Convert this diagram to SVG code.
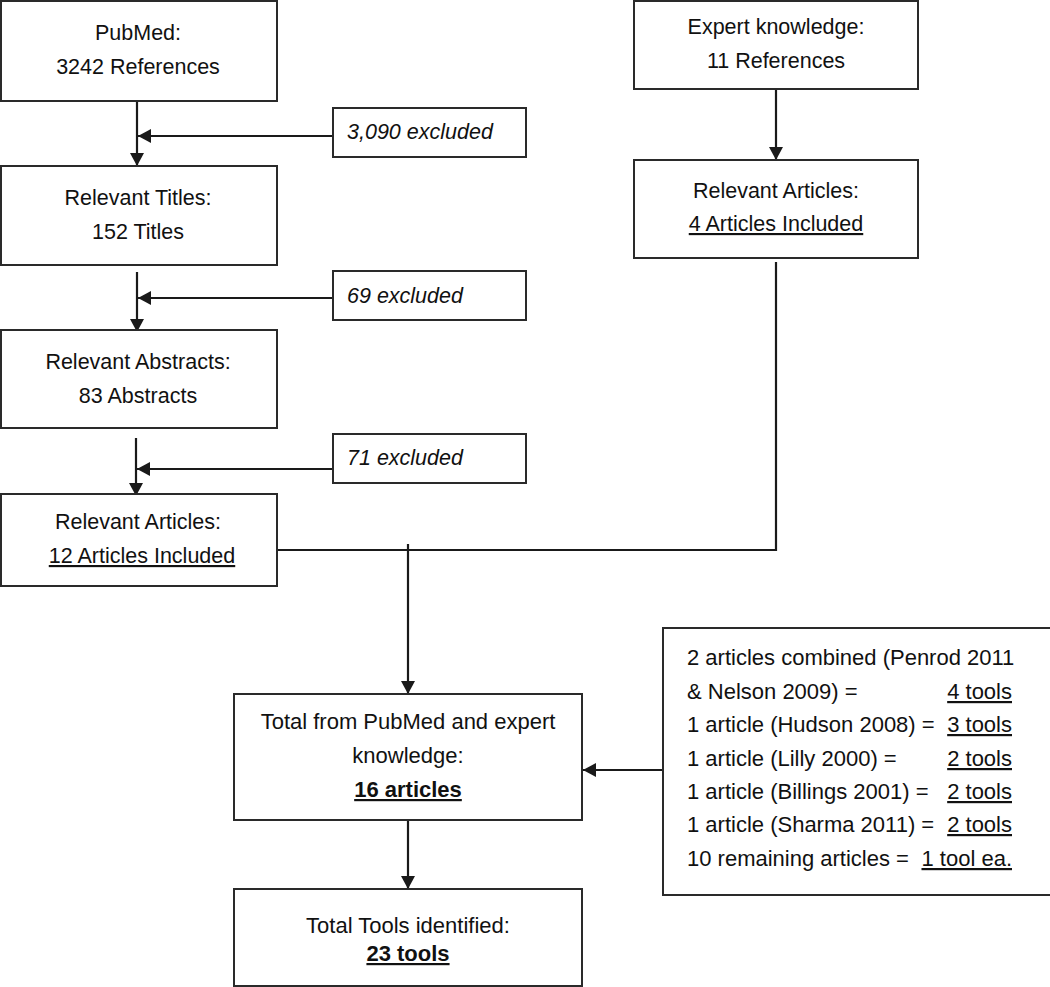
<svg xmlns="http://www.w3.org/2000/svg" width="1050" height="987" viewBox="0 0 1050 987">
<defs>
<style>
.box{fill:#fff;stroke:#2a2a2a;stroke-width:2}
.t{font-family:"Liberation Sans",Arial,sans-serif;font-size:21.5px;fill:#111}
.l{font-size:22px}
.c{text-anchor:middle}
.i{font-style:italic}
.b{font-weight:bold}
.u{text-decoration:underline}
.r{text-anchor:end}
.ln{fill:none;stroke:#1a1a1a;stroke-width:2.2}
</style>
<marker id="ah" markerUnits="userSpaceOnUse" markerWidth="14" markerHeight="14" refX="13" refY="7" orient="auto">
<path d="M0,0 L13,7 L0,14 z" fill="#1a1a1a"/>
</marker>
</defs>
<g id="connectors">
<line class="ln" x1="137" y1="102" x2="137" y2="166" marker-end="url(#ah)"/>
<line class="ln" x1="333" y1="136" x2="138" y2="136" marker-end="url(#ah)"/>
<line class="ln" x1="137" y1="272" x2="137" y2="332" marker-end="url(#ah)"/>
<line class="ln" x1="333" y1="298" x2="138" y2="298" marker-end="url(#ah)"/>
<line class="ln" x1="136" y1="438" x2="136" y2="496" marker-end="url(#ah)"/>
<line class="ln" x1="333" y1="469" x2="137" y2="469" marker-end="url(#ah)"/>
<line class="ln" x1="776" y1="89" x2="776" y2="160" marker-end="url(#ah)"/>
<polyline class="ln" points="277,550 776,550 776,262"/>
<line class="ln" x1="408" y1="544" x2="408" y2="694" marker-end="url(#ah)"/>
<line class="ln" x1="408" y1="820" x2="408" y2="889" marker-end="url(#ah)"/>
<line class="ln" x1="663" y1="770" x2="583" y2="770" marker-end="url(#ah)"/>
</g>
<g id="pubmed">
<rect class="box" x="1" y="1" width="276" height="100"/>
<text class="t c" x="138" y="40">PubMed:</text>
<text class="t c" x="138" y="74">3242 References</text>
</g>
<g id="excl1">
<rect class="box" x="333" y="108" width="193" height="49"/>
<text class="t i" x="347" y="139">3,090 excluded</text>
</g>
<g id="titles">
<rect class="box" x="1" y="166" width="276" height="99"/>
<text class="t c" x="138" y="205">Relevant Titles:</text>
<text class="t c" x="138" y="239">152 Titles</text>
</g>
<g id="excl2">
<rect class="box" x="333" y="271" width="193" height="49"/>
<text class="t i" x="347" y="303">69 excluded</text>
</g>
<g id="abstracts">
<rect class="box" x="1" y="330" width="276" height="98"/>
<text class="t c" x="138" y="369">Relevant Abstracts:</text>
<text class="t c" x="138" y="403">83 Abstracts</text>
</g>
<g id="excl3">
<rect class="box" x="333" y="434" width="193" height="49"/>
<text class="t i" x="347" y="465">71 excluded</text>
</g>
<g id="articles12">
<rect class="box" x="1" y="494" width="276" height="92"/>
<text class="t c" x="138" y="529">Relevant Articles:</text>
<text class="t c u" x="142" y="563">12 Articles Included</text>
</g>
<g id="expert">
<rect class="box" x="634" y="1" width="284" height="88"/>
<text class="t c" x="776" y="34">Expert knowledge:</text>
<text class="t c" x="776" y="68">11 References</text>
</g>
<g id="articles4">
<rect class="box" x="634" y="160" width="284" height="98"/>
<text class="t c" x="776" y="198">Relevant Articles:</text>
<text class="t c u" x="776" y="231">4 Articles Included</text>
</g>
<g id="total">
<rect class="box" x="234" y="694" width="348" height="126"/>
<text class="t l c" x="408" y="729">Total from PubMed and expert</text>
<text class="t l c" x="408" y="763">knowledge:</text>
<text class="t l c b u" x="408" y="797">16 articles</text>
</g>
<g id="tools">
<rect class="box" x="234" y="889" width="348" height="97"/>
<text class="t l c" x="408" y="933">Total Tools identified:</text>
<text class="t l c b u" x="408" y="961">23 tools</text>
</g>
<g id="list">
<rect class="box" x="663" y="628" width="390" height="267"/>
<text class="t l" x="687" y="665">2 articles combined (Penrod 2011</text>
<text class="t l" x="687" y="699">&amp; Nelson 2009) =</text>
<text class="t l r u" x="1012" y="699">4 tools</text>
<text class="t l" x="687" y="732">1 article (Hudson 2008) =</text>
<text class="t l r u" x="1012" y="732">3 tools</text>
<text class="t l" x="687" y="766">1 article (Lilly 2000) =</text>
<text class="t l r u" x="1012" y="766">2 tools</text>
<text class="t l" x="687" y="799">1 article (Billings 2001) =</text>
<text class="t l r u" x="1012" y="799">2 tools</text>
<text class="t l" x="687" y="832">1 article (Sharma 2011) =</text>
<text class="t l r u" x="1012" y="832">2 tools</text>
<text class="t l" x="687" y="866">10 remaining articles =</text>
<text class="t l r u" x="1012" y="866">1 tool ea.</text>
</g>
</svg>
